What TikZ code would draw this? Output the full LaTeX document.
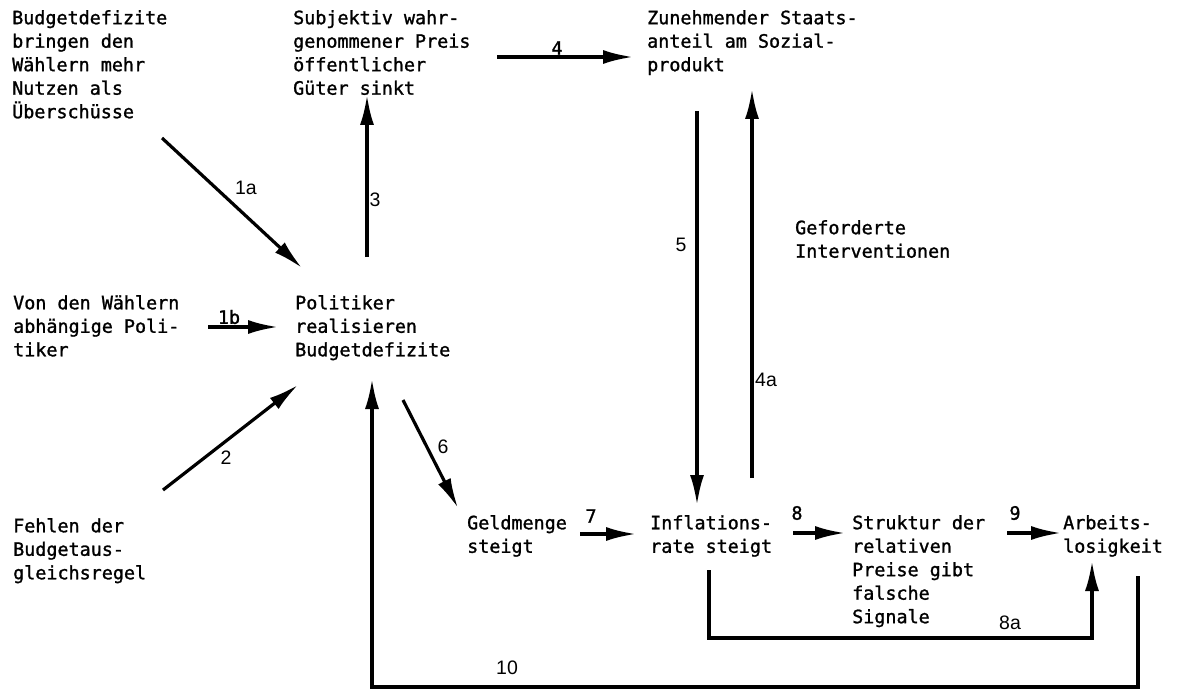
\documentclass[tikz,border=0pt]{standalone}
\usepackage{fontspec}
\setmonofont[FakeBold=1.3]{DejaVu Sans Mono}
\newfontfamily\lblsans{Liberation Sans}
\usetikzlibrary{arrows.meta}
\tikzset{
  txt/.style={anchor=north west, inner sep=0pt, align=left, font=\fontsize{18.4}{23.5}\selectfont\ttfamily},
  lbl/.style={inner sep=0pt, font=\fontsize{18.4}{23.5}\selectfont\ttfamily},
  slbl/.style={inner sep=0pt, font=\fontsize{19.5}{23}\selectfont\lblsans},
  arr/.style={line width=3.2pt, -{Latex[length=30pt,width=14pt]}},
}
\begin{document}
\begin{tikzpicture}[x=1pt,y=-1pt]
\useasboundingbox (0,0) rectangle (1179,690);
% text blocks
\node[txt] (bud) at (12,10) {Budgetdefizite\\bringen den\\Wählern mehr\\Nutzen als\\Überschüsse};
\node[txt] (subj) at (293,10) {Subjektiv wahr-\\genommener Preis\\öffentlicher\\Güter sinkt};
\node[txt] (zun) at (647,10) {Zunehmender Staats-\\anteil am Sozial-\\produkt};
\node[txt] (von) at (13,295) {Von den Wählern\\abhängige Poli-\\tiker};
\node[txt] (pol) at (295,295) {Politiker\\realisieren\\Budgetdefizite};
\node[txt] (feh) at (13,518) {Fehlen der\\Budgetaus-\\gleichsregel};
\node[txt] (gef) at (795,220) {Geforderte\\Interventionen};
\node[txt] (geld) at (467,515) {Geldmenge\\steigt};
\node[txt] (infl) at (650,515) {Inflations-\\rate steigt};
\node[txt] (strukt) at (852,515) {Struktur der\\relativen\\Preise gibt\\falsche\\Signale};
\node[txt] (arb) at (1063,515) {Arbeits-\\losigkeit};
% connector end points
\coordinate (a4s) at (497,57);   \coordinate (a4e) at (633,57);
\coordinate (a1as) at (162,138); \coordinate (a1ae) at (302,268);
\coordinate (a3s) at (367,257);  \coordinate (a3e) at (367,95);
\coordinate (a1bs) at (208,327); \coordinate (a1be) at (278,327);
\coordinate (a2s) at (163,490);  \coordinate (a2e) at (298,385);
\coordinate (a6s) at (403,400);  \coordinate (a6e) at (458,508);
\coordinate (a5s) at (697,111);  \coordinate (a5e) at (697,505);
\coordinate (a4as) at (752,478); \coordinate (a4ae) at (752,89);
\coordinate (a7s) at (580,534);  \coordinate (a7e) at (636,534);
\coordinate (a8s) at (793,533);  \coordinate (a8e) at (845,533);
\coordinate (a9s) at (1007,533); \coordinate (a9e) at (1061,533);
\coordinate (a8as) at (709,570); \coordinate (a8ac) at (709,638);
\coordinate (a8ad) at (1092,638); \coordinate (a8ae) at (1092,561);
\coordinate (a10s) at (1138,576); \coordinate (a10c) at (1138,687);
\coordinate (a10d) at (372,687);  \coordinate (a10e) at (372,379);
% connectors
\draw[arr] (a4s) -- (a4e);
\draw[arr] (a1as) -- (a1ae);
\draw[arr] (a3s) -- (a3e);
\draw[arr] (a1bs) -- (a1be);
\draw[arr] (a2s) -- (a2e);
\draw[arr] (a6s) -- (a6e);
\draw[arr] (a5s) -- (a5e);
\draw[arr] (a4as) -- (a4ae);
\draw[arr] (a7s) -- (a7e);
\draw[arr] (a8s) -- (a8e);
\draw[arr] (a9s) -- (a9e);
\draw[arr] (a8as) -- (a8ac) -- (a8ad) -- (a8ae);
\draw[arr] (a10s) -- (a10c) -- (a10d) -- (a10e);
% labels
\node[lbl] (l4) at (557,48) {4};
\node[slbl] (l1a) at (246,188) {1a};
\node[slbl] (l3) at (375,200) {3};
\node[lbl] (l1b) at (229,317) {1b};
\node[slbl] (l2) at (226,458) {2};
\node[slbl] (l6) at (443,447) {6};
\node[slbl] (l5) at (681,245) {5};
\node[slbl] (l4a) at (766,380) {4a};
\node[lbl] (l7) at (591,516) {7};
\node[lbl] (l8) at (797,513) {8};
\node[lbl] (l9) at (1015,513) {9};
\node[slbl] (l8a) at (1010,623) {8a};
\node[slbl] (l10) at (507,668) {10};
\end{tikzpicture}
\end{document}
